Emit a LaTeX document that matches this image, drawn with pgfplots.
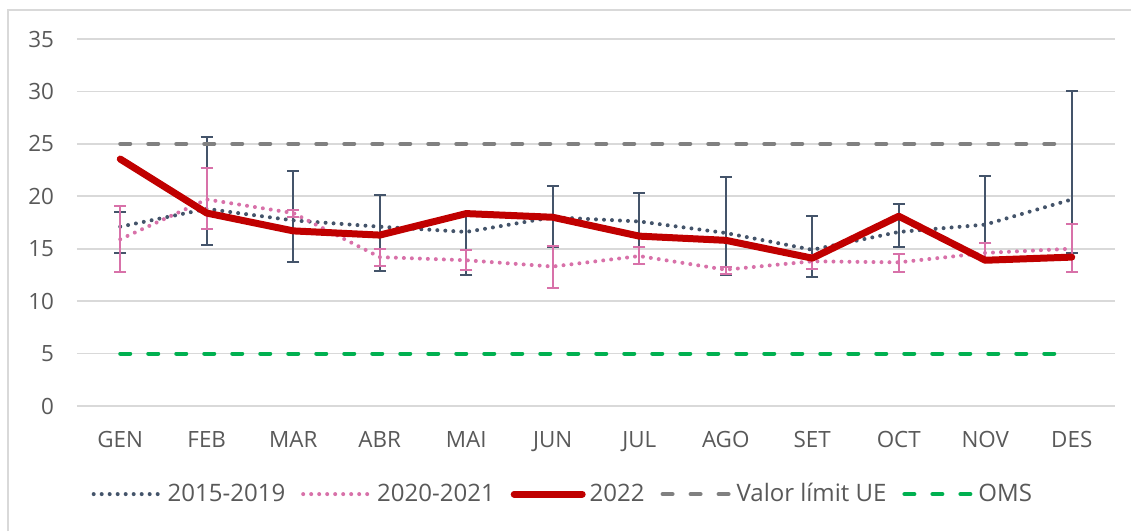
\documentclass[border=0pt]{standalone}
\usepackage{pgfplots}
\pgfplotsset{compat=1.18}
\usepackage{pgfplotstable}
\usepackage{fontspec}
\setmainfont{Open Sans}

\definecolor{cSlate}{HTML}{44546A}
\definecolor{cPink}{HTML}{D871A9}
\definecolor{cRed}{HTML}{C00000}
\definecolor{cGray}{HTML}{808080}
\definecolor{cGreen}{HTML}{00B050}
\definecolor{cText}{HTML}{595959}
\definecolor{cGrid}{HTML}{D9D9D9}

% x, mean, upper, lower
\pgfplotstableread{
x  y     hi    lo
0  17.1  18.5  14.6
1  18.8  25.7  15.4
2  17.7  22.4  13.7
3  17.1  20.1  12.9
4  16.6  18.3  12.5
5  18.0  21.0  15.2
6  17.6  20.3  15.2
7  16.5  21.8  12.5
8  14.9  18.1  12.3
9  16.6  19.3  15.2
10 17.3  21.9  15.5
11 19.7  30.0  14.6
}\dataA

\pgfplotstableread{
x  y     hi    lo
0  15.9  19.1  12.8
1  19.7  22.7  16.9
2  18.4  18.7  18.0
3  14.2  15.0  13.35
4  13.9  14.9  13.0
5  13.3  15.3  11.3
6  14.3  15.2  13.5
7  13.0  13.25 12.6
8  13.8  14.4  13.1
9  13.7  14.5  12.8
10 14.6  15.5  13.9
11 15.0  17.4  12.75
}\dataB

\pgfplotstableread{
x  y
0  23.55
1  18.4
2  16.7
3  16.3
4  18.35
5  18.0
6  16.2
7  15.8
8  14.1
9  18.1
10 13.9
11 14.2
}\dataC

\begin{document}
\begin{tikzpicture}
\useasboundingbox (-38.5pt,-62.5pt) rectangle (527pt,203pt);
\draw[cGrid, line width=0.8pt] (-34.5pt,-62.5pt) -- (-34.5pt,198pt) -- (527pt,198pt);
\begin{axis}[
    scale only axis,
    width=519pt, height=183.5pt,
    xmin=-0.5, xmax=11.5,
    ymin=0, ymax=35,
    xtick={0,...,11},
    xticklabels={GEN,FEB,MAR,ABR,MAI,JUN,JUL,AGO,SET,OCT,NOV,DES},
    ytick={0,5,...,35},
    axis line style={draw=none},
    major tick length=0pt,
    ymajorgrids,
    grid style={cGrid, line width=0.8pt},
    tick label style={font=\fontsize{11.2}{13}\selectfont, text=cText},
    /pgf/number format/assume math mode=true,
    yticklabel style={xshift=-8pt},
    xticklabel style={yshift=-9pt},
    legend style={at={(0.469,-0.24)}, anchor=center, draw=none,
        legend columns=-1, font=\fontsize{12}{14}\selectfont, text=cText,
        /tikz/every even column/.append style={column sep=6pt},
        inner sep=0pt},
    legend image code/.code={\draw[#1] (0pt,0pt) -- (34pt,0pt);},
    legend cell align=left,
]
\addplot[cSlate, line width=2pt, line cap=round, dash pattern=on 0pt off 4pt,
    error bars/y dir=both, error bars/y explicit,
    error bars/error bar style={solid, line width=1pt, line cap=butt, cSlate},
    error bars/error mark options={rotate=90, cSlate, line width=1pt, mark size=3pt, solid}]
    table[x=x, y=y, y error plus expr=\thisrow{hi}-\thisrow{y},
          y error minus expr=\thisrow{y}-\thisrow{lo}] {\dataA};
\addlegendentry{2015-2019}
\addplot[cPink, line width=2pt, line cap=round, dash pattern=on 0pt off 4pt,
    error bars/y dir=both, error bars/y explicit,
    error bars/error bar style={solid, line width=1pt, line cap=butt, cPink},
    error bars/error mark options={rotate=90, cPink, line width=1pt, mark size=3pt, solid}]
    table[x=x, y=y, y error plus expr=\thisrow{hi}-\thisrow{y},
          y error minus expr=\thisrow{y}-\thisrow{lo}] {\dataB};
\addlegendentry{2020-2021}
\addplot[cRed, line width=3.5pt, line cap=round, line join=round]
    table[x=x, y=y] {\dataC};
\addlegendentry{2022}
\addplot[cGray, line width=2pt, line cap=round, dash pattern=on 5pt off 9pt]
    coordinates {(0,25) (11,25)};
\addlegendentry{Valor límit UE}
\addplot[cGreen, line width=2pt, line cap=round, dash pattern=on 5pt off 9pt]
    coordinates {(0,5) (11,5)};
\addlegendentry{OMS}
\end{axis}
\end{tikzpicture}
\end{document}
